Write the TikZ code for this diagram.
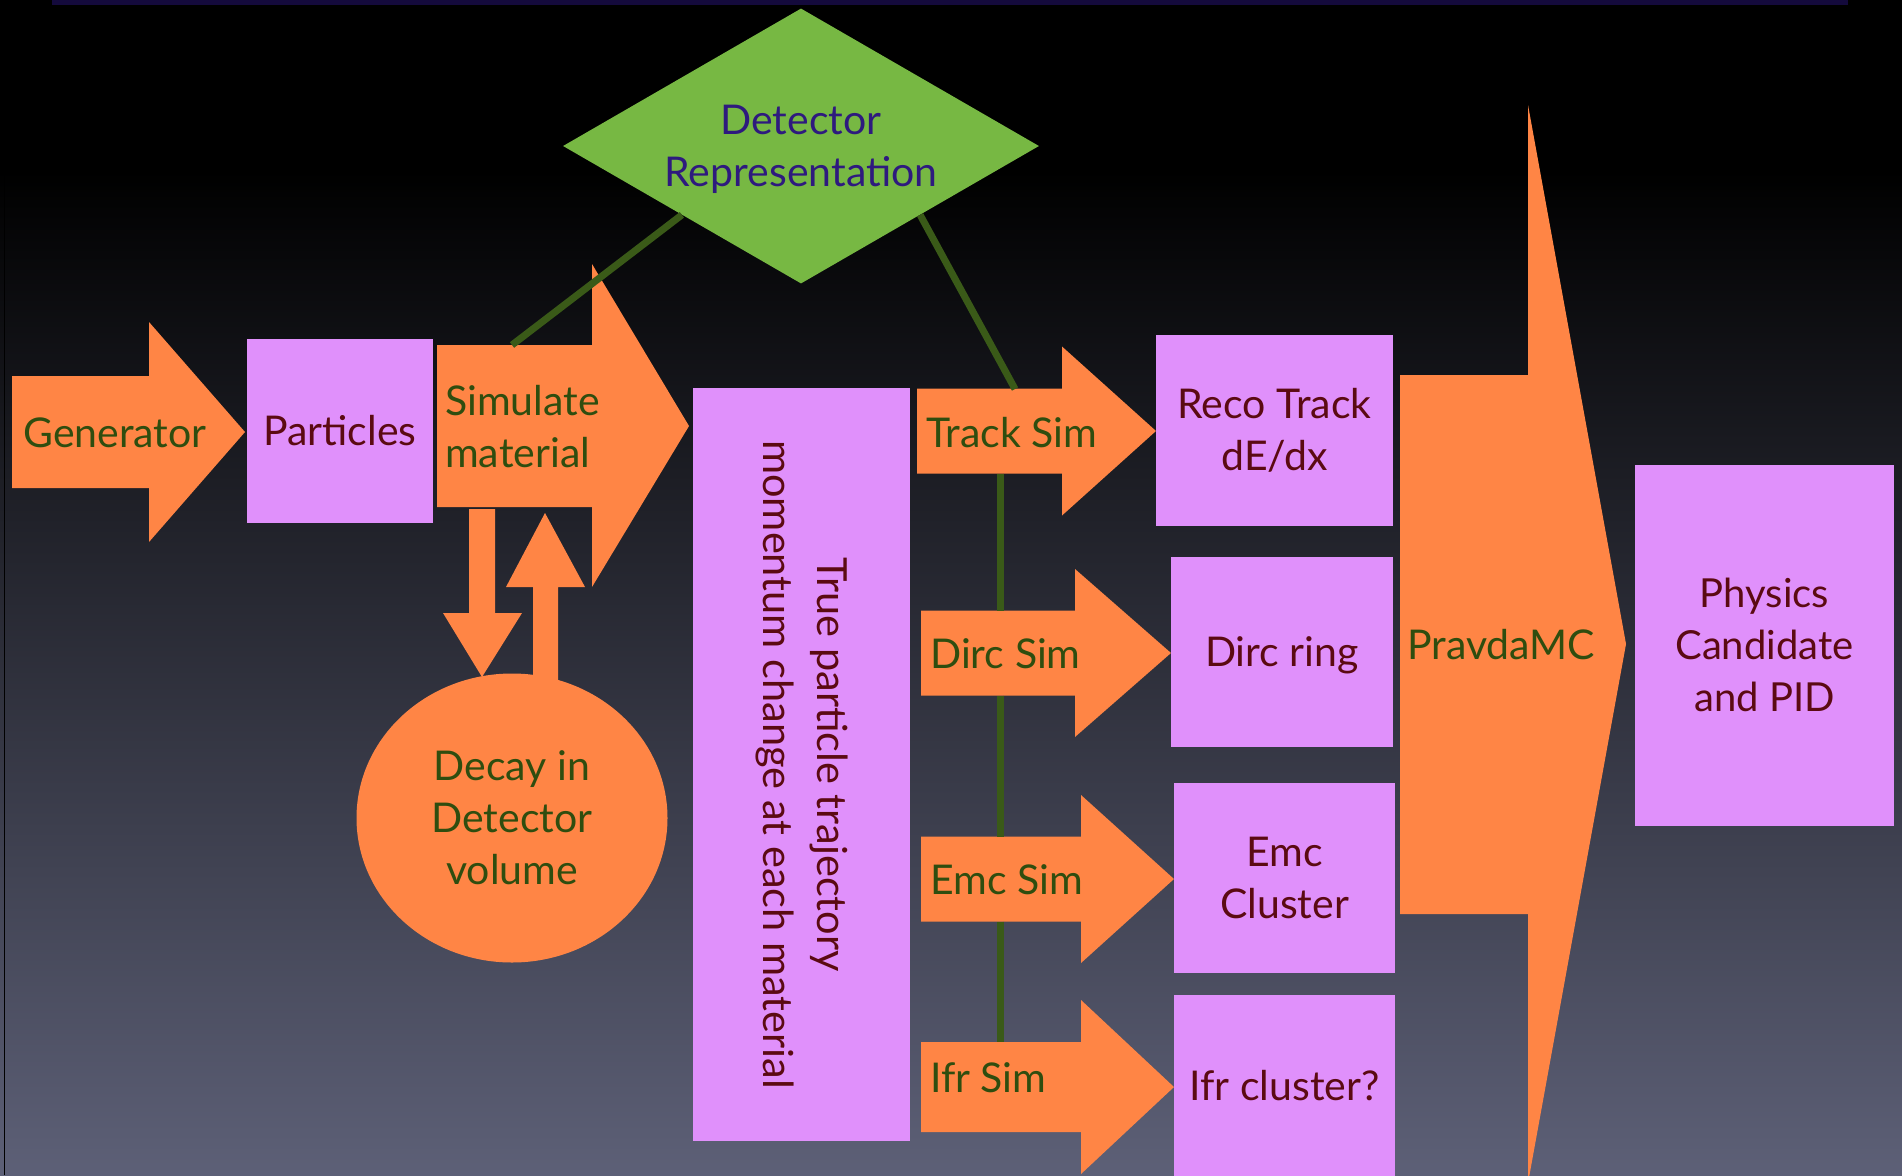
\documentclass[tikz,border=0pt]{standalone}
\usepackage{fontspec}
\setmainfont{Lato}
\usetikzlibrary{shapes.geometric,positioning}

\definecolor{orangefill}{HTML}{FF8545}
\definecolor{violetfill}{HTML}{E090FB}
\definecolor{diamondgreen}{HTML}{77B843}
\definecolor{linkgreen}{HTML}{3A5A18}
\definecolor{greentext}{HTML}{2F4D0F}
\definecolor{maroontext}{HTML}{5B0A12}
\definecolor{indigotext}{HTML}{2E1A7E}
\definecolor{bgmid}{HTML}{22243C}
\definecolor{bgbot}{HTML}{5D6077}
\definecolor{topband}{HTML}{140A3C}

\tikzset{
  bigfont/.style={font=\fontsize{41}{52}\selectfont},
  box/.style={fill=violetfill, inner sep=0pt, text=maroontext, align=center, bigfont},
  arrowfill/.style={fill=orangefill},
  simlabel/.style={text=greentext, inner sep=0pt, anchor=base west, bigfont},
  link/.style={draw=linkgreen, line width=7pt},
}

\begin{document}
\begin{tikzpicture}[x=1pt, y=-1pt]
    \useasboundingbox (0,0) rectangle (1902,1175);
    % Background
    \fill[black] (0,0) rectangle (1902,1175);
    \shade[top color=black, middle color=bgmid, bottom color=bgbot] (0,170) rectangle (1902,1175);
    \fill[topband] (52,0) rectangle (1848,5);
    \draw[black, line width=1.5pt] (4.5,0) -- (4.5,1175);
    % Generator and simulate arrows
    \fill[arrowfill] (12,376) -- (149,376) -- (149,322) -- (245,432) -- (149,542) -- (149,488) -- (12,488) -- cycle;
    \fill[arrowfill] (437,345) -- (592,345) -- (592,264) -- (689,426) -- (592,587) -- (592,507) -- (437,507) -- cycle;
    % Down and up to the decay volume
    \fill[arrowfill] (469,509) -- (495,509) -- (495,613) -- (522,613) -- (482,677) -- (443,613) -- (469,613) -- cycle;
    \fill[arrowfill] (533,682) -- (558,682) -- (558,587) -- (585,587) -- (545,513) -- (506,587) -- (533,587) -- cycle;
    \node[ellipse, fill=orangefill, minimum width=311pt, minimum height=289pt, inner sep=0pt,
          text=greentext, align=center, bigfont] (decay) at (512,818) {Decay in\\Detector\\volume};
    % Sub-detector simulation arrows
    \foreach \nm/\lab/\bx/\hx/\tx/\cy/\bh/\hh/\by in {track/Track Sim/917/1062/1156/431/42.5/84.5/447,
        dirc/Dirc Sim/921/1075/1171/653/42.5/84/668, emc/Emc Sim/921/1081/1174/879/42.5/84/894,
        ifr/Ifr Sim/921/1081/1174/1087/45/87/1092} {
      \fill[arrowfill] (\bx,{\cy-\bh}) -- (\hx,{\cy-\bh}) -- (\hx,{\cy-\hh}) -- (\tx,\cy)
        -- (\hx,{\cy+\hh}) -- (\hx,{\cy+\bh}) -- (\bx,{\cy+\bh}) -- cycle;
      \coordinate (\nm-top) at (1000,{\cy-\bh});
      \coordinate (\nm-bot) at (1000,{\cy+\bh});
      \node[simlabel] (\nm-sim) at ({\bx+9},\by) {\lab};
    }
    % PravdaMC
    \fill[arrowfill] (1400,375) -- (1528,375) -- (1528,105) -- (1626,644) -- (1528,1183) -- (1528,914) -- (1400,914) -- cycle;
    \node[simlabel] (pravda) at (1407,659) {PravdaMC};
    % Boxes
    \node[box, minimum width=186pt, minimum height=184pt] (particles) at (340,431) {Particles};
    \node[box, rotate=-90, minimum width=753pt, minimum height=217pt, font=\fontsize{41.5}{54}\selectfont]
      (trueparticle) at (801.5,764.5) {True particle trajectory\\momentum change at each material};
    \node[box, minimum width=237pt, minimum height=191pt] (recotrack) at (1274.5,430.5) {Reco Track\\dE/dx};
    \node[box, minimum width=222pt, minimum height=190pt, text depth=0pt] (dircring) at (1282,652) {Dirc ring};
    \node[box, minimum width=221pt, minimum height=190pt] (emccluster) at (1284.5,878) {Emc\\Cluster};
    \node[box, minimum width=221pt, minimum height=182pt] (ifrcluster) at (1284.5,1086) {Ifr cluster?};
    \node[box, minimum width=259pt, minimum height=361pt, font=\fontsize{40}{52}\selectfont] (physics) at (1764.5,645)
      {Physics\\Candidate\\and PID};
    % Detector representation
    \node[diamond, fill=diamondgreen, minimum width=476pt, minimum height=275pt, aspect=1.73, inner sep=0pt,
          text=indigotext, align=center, bigfont, text depth=0pt] (detrep) at (801,146) {Detector\\Representation};
    \node[simlabel, anchor=west, align=left] (simulate) at (445,427) {Simulate\\material};
    \node[simlabel, anchor=center] (generator) at (115,433) {Generator};
    % Links
    \coordinate (simtop) at (512,345);
    \coordinate (trackentry) at (1015,389);
    \draw[link] (detrep.south west) -- (simtop);
    \draw[link] (detrep.south east) -- (trackentry);
    \draw[link] (track-bot) -- (dirc-top);
    \draw[link] (dirc-bot) -- (emc-top);
    \draw[link] (emc-bot) -- (ifr-top);
\end{tikzpicture}
\end{document}
